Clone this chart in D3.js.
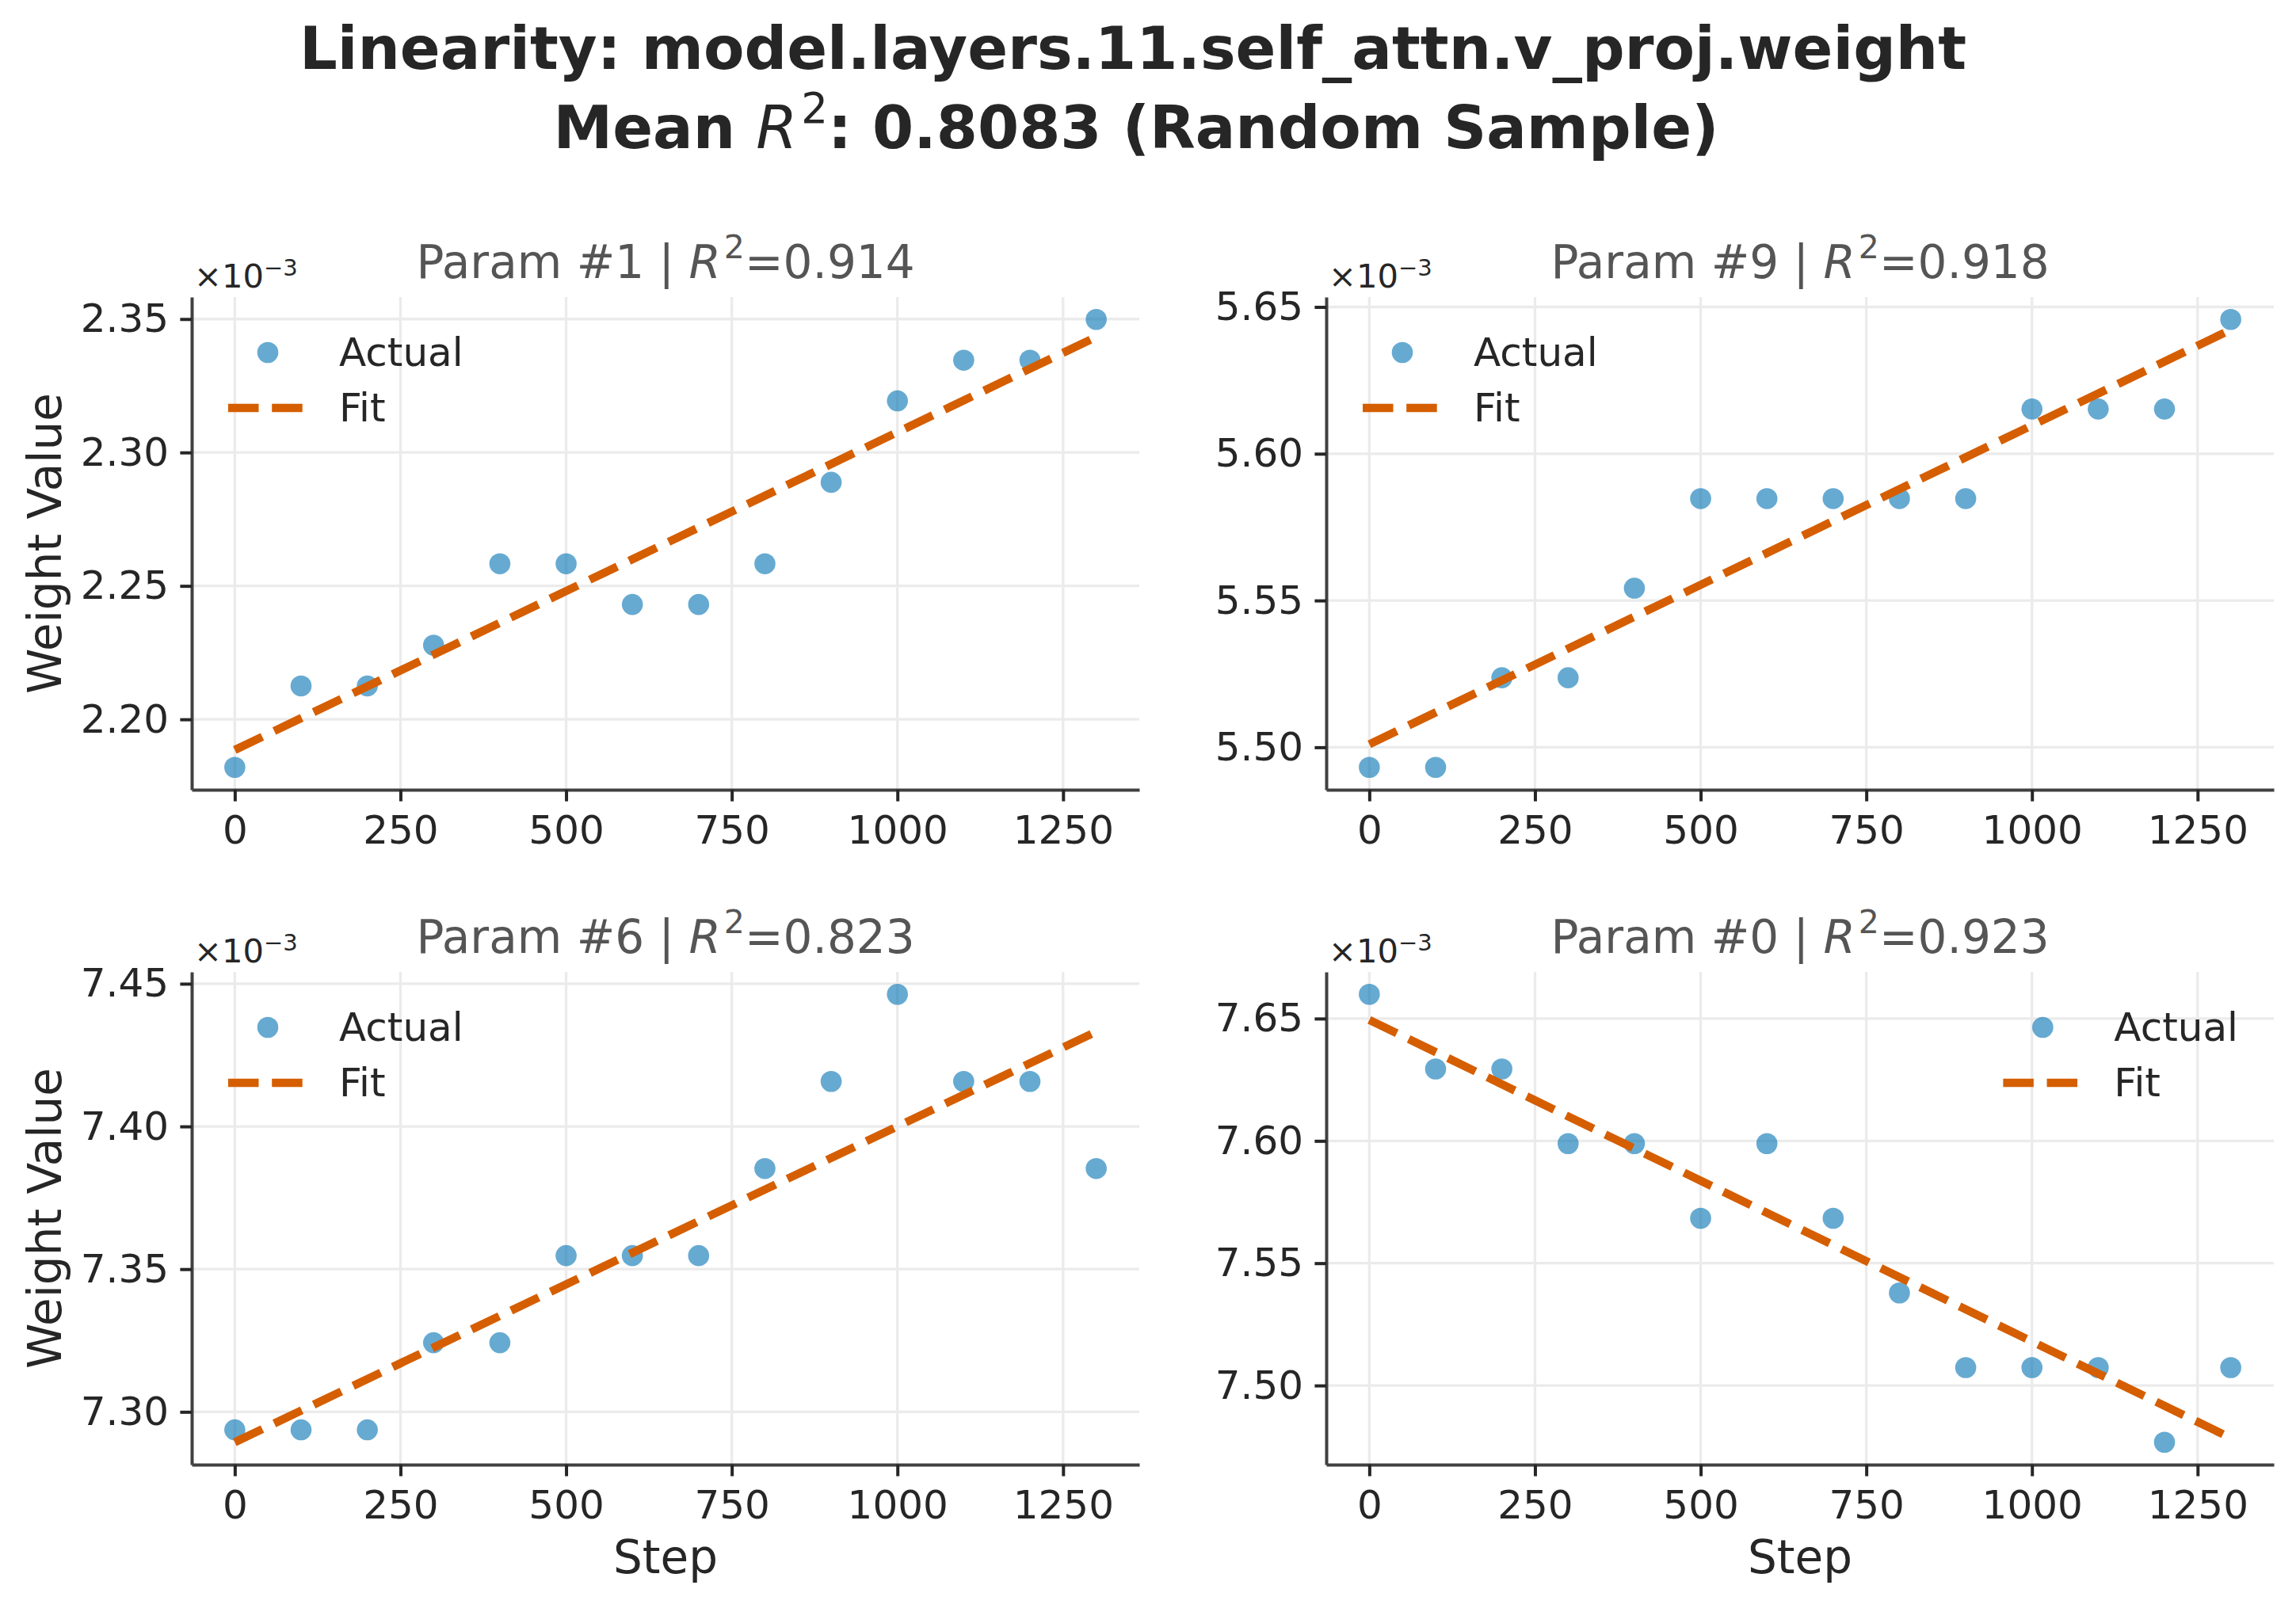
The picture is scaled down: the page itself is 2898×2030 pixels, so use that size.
<!DOCTYPE html>
<html>
<head>
<meta charset="utf-8">
<script src="https://cdn.jsdelivr.net/npm/d3@7"></script>
<style>
body { margin: 0; background: #fff; }
text { font-family: "DejaVu Sans", sans-serif; }
</style>
</head>
<body>
<script>
// training steps shared by every panel
var steps = [0, 100, 200, 300, 400, 500, 600, 700, 800, 900, 1000, 1100, 1200, 1300];
var xTicks = [0, 250, 500, 750, 1000, 1250];

// panel order: top-left, top-right, bottom-left, bottom-right
var paramIds = [1, 9, 6, 0];
var r2Labels = ["0.914", "0.918", "0.823", "0.923"];

// weight values, in units of 1e-3
var param1 = [2.18201, 2.21252, 2.21252, 2.22778, 2.25830, 2.25830, 2.24304, 2.24304, 2.25830, 2.28882, 2.31934, 2.33459, 2.33459, 2.34985];
var param9 = [5.49316, 5.49316, 5.52368, 5.52368, 5.55420, 5.58472, 5.58472, 5.58472, 5.58472, 5.58472, 5.61523, 5.61523, 5.61523, 5.64575];
var param6 = [7.29370, 7.29370, 7.29370, 7.32422, 7.32422, 7.35474, 7.35474, 7.35474, 7.38525, 7.41577, 7.44629, 7.41577, 7.41577, 7.38525];
var param0 = [7.65991, 7.62939, 7.62939, 7.59888, 7.59888, 7.56836, 7.59888, 7.56836, 7.53784, 7.50732, 7.50732, 7.50732, 7.47681, 7.50732];
var seriesList = [param1, param9, param6, param0];

// fitted line value at the first and the last step
var fitStart = [2.18854, 5.50101, 7.28935, 7.64945];
var fitEnd = [2.34331, 5.64226, 7.43321, 7.47855];

var yTicks1 = [2.20, 2.25, 2.30, 2.35];
var yTicks9 = [5.50, 5.55, 5.60, 5.65];
var yTicks6 = [7.30, 7.35, 7.40, 7.45];
var yTicks0 = [7.50, 7.55, 7.60, 7.65];
var yTickList = [yTicks1, yTicks9, yTicks6, yTicks0];

var legendSide = ["left", "left", "left", "right"];

var width = 2898, height = 2030;
var colLeft = [242, 1674], rowTop = [375, 1227];
var panelW = 1196, panelH = 622;

var blue = "#0072B2", orange = "#D55E00";
var textColor = "#262626";

var svg = d3.select("body").append("svg")
    .attr("width", width)
    .attr("height", height);

svg.append("rect").attr("width", width).attr("height", height).attr("fill", "#fff");

// suptitle, two lines
svg.append("text")
    .attr("x", 1430).attr("y", 87)
    .attr("text-anchor", "middle")
    .attr("font-size", 75).attr("font-weight", "bold")
    .attr("fill", textColor)
    .text("Linearity: model.layers.11.self_attn.v_proj.weight");

var t2 = svg.append("text")
    .attr("x", 1434).attr("y", 187)
    .attr("text-anchor", "middle")
    .attr("font-size", 75).attr("font-weight", "bold")
    .attr("fill", textColor);
t2.append("tspan").text("Mean ");
t2.append("tspan").attr("font-style", "italic").attr("font-weight", "normal").text("R");
t2.append("tspan").attr("font-size", 53).attr("font-weight", "normal").attr("dx", 5).attr("dy", -32).text("2");
t2.append("tspan").attr("dy", 32).text(": 0.8083 (Random Sample)");

seriesList.forEach(function (values, i) {
    var left = colLeft[i % 2];
    var top = rowTop[Math.floor(i / 2)];
    var g = svg.append("g");

    var xPad = (d3.max(steps) - d3.min(steps)) * 0.05;
    var x = d3.scaleLinear()
        .domain([d3.min(steps) - xPad, d3.max(steps) + xPad])
        .range([left, left + panelW]);

    var all = values.concat([fitStart[i], fitEnd[i]]);
    var lo = d3.min(all), hi = d3.max(all), yPad = (hi - lo) * 0.05;
    var y = d3.scaleLinear()
        .domain([lo - yPad, hi + yPad])
        .range([top + panelH, top]);

    // grid
    g.append("g").selectAll("line")
        .data(xTicks)
        .enter().append("line")
        .attr("x1", d => x(d)).attr("x2", d => x(d))
        .attr("y1", top).attr("y2", top + panelH)
        .attr("stroke", "#ebebeb").attr("stroke-width", 3.3);
    g.append("g").selectAll("line")
        .data(yTickList[i])
        .enter().append("line")
        .attr("x1", left).attr("x2", left + panelW)
        .attr("y1", d => y(d)).attr("y2", d => y(d))
        .attr("stroke", "#ebebeb").attr("stroke-width", 3.3);

    // actual points
    g.append("g").selectAll("circle")
        .data(values)
        .enter().append("circle")
        .attr("cx", (d, j) => x(steps[j]))
        .attr("cy", d => y(d))
        .attr("r", 13.3)
        .attr("fill", blue)
        .attr("fill-opacity", 0.6);

    // fit
    var fitPts = [[steps[0], fitStart[i]], [steps[steps.length - 1], fitEnd[i]]];
    g.append("path")
        .attr("d", d3.line().x(d => x(d[0])).y(d => y(d[1]))(fitPts))
        .attr("fill", "none")
        .attr("stroke", orange)
        .attr("stroke-width", 10.4)
        .attr("stroke-dasharray", "38.5,16.7");

    // axes
    var xAxis = g.append("g")
        .attr("transform", "translate(0," + (top + panelH) + ")")
        .call(d3.axisBottom(x).tickValues(xTicks).tickFormat(d3.format("d"))
            .tickSize(14.6).tickSizeOuter(0).tickPadding(18));
    var yAxis = g.append("g")
        .attr("transform", "translate(" + left + ",0)")
        .call(d3.axisLeft(y).tickValues(yTickList[i]).tickFormat(d3.format(".2f"))
            .tickSize(14.6).tickSizeOuter(0).tickPadding(14.4));
    [xAxis, yAxis].forEach(function (a) {
        a.attr("font-family", null).attr("font-size", null).attr("color", textColor);
        a.selectAll(".tick line").attr("stroke-width", 4);
        a.selectAll(".tick text").attr("font-size", 50).attr("fill", textColor);
        a.select(".domain").attr("stroke", "#404040").attr("stroke-width", 4);
    });

    // offset text
    var off = g.append("text")
        .attr("x", left + 3).attr("y", top - 12)
        .attr("font-size", 41.7).attr("fill", textColor);
    off.append("tspan").text("\u00d710");
    off.append("tspan").attr("font-size", 29).attr("dy", -15).text("\u22123");

    // panel title
    var st = g.append("text")
        .attr("x", left + panelW / 2).attr("y", top - 24)
        .attr("text-anchor", "middle")
        .attr("font-size", 58).attr("fill", "#555555");
    st.append("tspan").text("Param #" + paramIds[i] + " | ");
    st.append("tspan").attr("font-style", "italic").text("R");
    st.append("tspan").attr("font-size", 41).attr("dx", 4).attr("dy", -25).text("2");
    st.append("tspan").attr("dy", 25).text("=" + r2Labels[i]);

    // axis labels
    if (i % 2 === 0) {
        g.append("text")
            .attr("transform", "translate(77," + (top + panelH / 2) + ") rotate(-90)")
            .attr("text-anchor", "middle")
            .attr("font-size", 58).attr("fill", textColor)
            .text("Weight Value");
    }
    if (i >= 2) {
        g.append("text")
            .attr("x", left + panelW / 2).attr("y", 1986)
            .attr("text-anchor", "middle")
            .attr("font-size", 58).attr("fill", textColor)
            .text("Step");
    }

    // legend
    var leg = g.append("g");
    var labels = leg.selectAll("text")
        .data(["Actual", "Fit"])
        .enter().append("text")
        .attr("y", (d, k) => top + 69 + k * 70)
        .attr("dy", "0.35em")
        .attr("font-size", 50).attr("fill", textColor)
        .text(d => d);
    var textX;
    if (legendSide[i] === "left") {
        textX = left + 186;
    } else {
        var w = d3.max(labels.nodes(), n => n.getComputedTextLength());
        textX = left + panelW - 45 - w;
    }
    labels.attr("x", textX);
    leg.append("circle")
        .attr("cx", textX - 90).attr("cy", top + 70)
        .attr("r", 13.3)
        .attr("fill", blue).attr("fill-opacity", 0.6);
    leg.append("line")
        .attr("x1", textX - 140).attr("x2", textX - 40)
        .attr("y1", top + 140).attr("y2", top + 140)
        .attr("stroke", orange)
        .attr("stroke-width", 10.4)
        .attr("stroke-dasharray", "38.5,16.7");
});
</script>
</body>
</html>
